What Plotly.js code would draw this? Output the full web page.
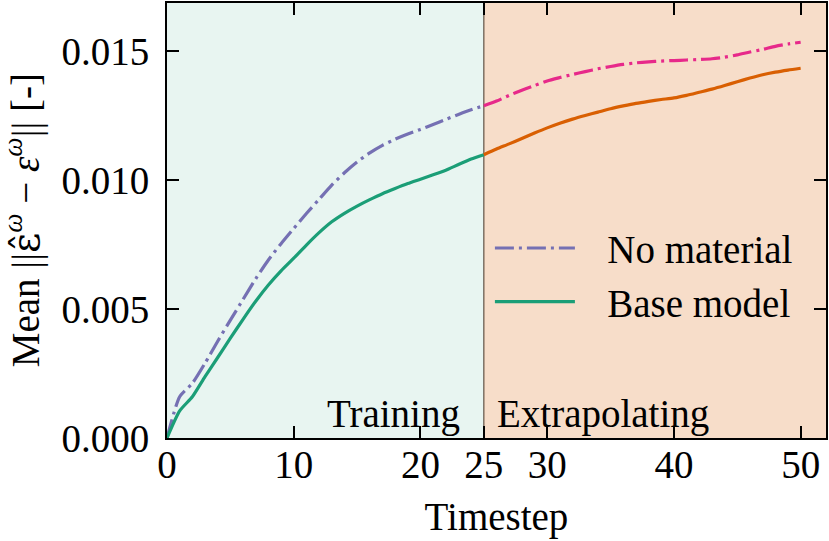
<!DOCTYPE html>
<html>
<head>
<meta charset="utf-8">
<script src="https://cdn.plot.ly/plotly-3.0.1.min.js"></script>
<style>
  html, body { margin: 0; padding: 0; background: white; }
  #chart { width: 829px; height: 541px; }
</style>
</head>
<body>
<div id="chart"></div>
<script>
// timesteps
const stepsTrain = [0,1,2,3,4,5,6,7,8,9,10,11,12,13,14,15,16,17,18,19,20,21,22,23,24,25];
const stepsExtra = [25,26,27,28,29,30,31,32,33,34,35,36,37,38,39,40,41,42,43,44,45,46,47,48,49,50];

// No material (dash-dot)
const noMatTrain = [0, 0.00160, 0.00212, 0.00290, 0.00375, 0.00457, 0.00537, 0.00617, 0.00690, 0.00753,
  0.00812, 0.00870, 0.00925, 0.00980, 0.01028, 0.01070, 0.01105, 0.01134, 0.01158, 0.01178,
  0.01196, 0.01215, 0.01235, 0.01254, 0.01272, 0.01288];
const noMatExtra = [0.01288, 0.01306, 0.01328, 0.01348, 0.01366, 0.01384, 0.01397, 0.01409, 0.01420, 0.01431,
  0.01440, 0.01448, 0.01454, 0.01458, 0.01461, 0.01463, 0.01465, 0.01467, 0.01470, 0.01476,
  0.01485, 0.01496, 0.01506, 0.01518, 0.01527, 0.01534];

// Base model (solid)
const baseTrain = [0, 0.00105, 0.00160, 0.00238, 0.00312, 0.00387, 0.00460, 0.00530, 0.00593, 0.00648,
  0.00697, 0.00748, 0.00796, 0.00838, 0.00871, 0.00899, 0.00924, 0.00947, 0.00967, 0.00986,
  0.01003, 0.01020, 0.01038, 0.01060, 0.01081, 0.01098];
const baseExtra = [0.01098, 0.01120, 0.01140, 0.01161, 0.01182, 0.01202, 0.01220, 0.01236, 0.01250, 0.01263,
  0.01276, 0.01287, 0.01297, 0.01305, 0.01312, 0.01318, 0.01328, 0.01340, 0.01352, 0.01366,
  0.01381, 0.01395, 0.01408, 0.01418, 0.01426, 0.01433];

const xTicks = [0, 10, 20, 25, 30, 40, 50];
const yTicks = [0, 0.005, 0.010, 0.015];
const yTickText = ['0.000', '0.005', '0.010', '0.015'];

const FONT = "'Liberation Serif', 'DejaVu Serif', serif";
const FS = 39;
const dashDot = '19px,5px,3px,5px';

const traces = [
  { x: stepsTrain, y: noMatTrain, mode: 'lines', name: '\u2002\u2009No material', legendgroup: 'a',
    line: { color: '#7570b3', width: 3.2, dash: dashDot, shape: 'spline', smoothing: 0.6 } },
  { x: stepsTrain, y: baseTrain, mode: 'lines', name: '\u2002\u2009Base model', legendgroup: 'b',
    line: { color: '#1b9e77', width: 3.2, shape: 'spline', smoothing: 0.6 } },
  { x: stepsExtra, y: noMatExtra, mode: 'lines', showlegend: false,
    line: { color: '#e7298a', width: 3.2, dash: dashDot, shape: 'spline', smoothing: 0.6 } },
  { x: stepsExtra, y: baseExtra, mode: 'lines', showlegend: false,
    line: { color: '#d95f02', width: 3.2, shape: 'spline', smoothing: 0.6 } }
];

const axisCommon = {
  showgrid: false, zeroline: false,
  showline: true, linecolor: 'black', linewidth: 2, mirror: 'ticks',
  ticks: 'inside', ticklen: 12, tickwidth: 2, tickcolor: 'black',
  tickfont: { family: FONT, size: FS, color: 'black' }
};

const layout = {
  width: 829, height: 541,
  margin: { l: 167, r: 3, t: 3, b: 103 },
  paper_bgcolor: 'white', plot_bgcolor: 'white',
  font: { family: FONT, size: FS, color: 'black' },
  xaxis: Object.assign({}, axisCommon, {
    range: [0, 52], tickvals: xTicks, ticklabelstandoff: -9,
    title: { text: 'Timestep', font: { family: FONT, size: FS }, standoff: 18 }
  }),
  yaxis: Object.assign({}, axisCommon, {
    range: [0, 0.01686], tickvals: yTicks, ticktext: yTickText, ticklabelstandoff: 8
  }),
  shapes: [
    { type: 'rect', xref: 'x', yref: 'paper', x0: 0, x1: 25, y0: 0, y1: 1,
      fillcolor: '#e8f5f1', line: { width: 0 }, layer: 'below' },
    { type: 'rect', xref: 'x', yref: 'paper', x0: 25, x1: 52, y0: 0, y1: 1,
      fillcolor: '#f7ddc9', line: { width: 0 }, layer: 'below' },
    { type: 'line', xref: 'x', yref: 'paper', x0: 25, x1: 25, y0: 0, y1: 1,
      line: { color: 'rgba(70,55,40,0.85)', width: 1.2 }, layer: 'below' }
  ],
  annotations: [
    { text: 'Mean ||<span style="font-family:DejaVu Serif">ε̂</span><sup><i>ω</i></sup> − <i>ε</i><sup><i>ω</i></sup>|| [-]',
      xref: 'paper', yref: 'paper', x: -0.219, y: 0.5, textangle: -90,
      xanchor: 'center', yanchor: 'middle', showarrow: false,
      font: { family: FONT, size: FS } },
    { text: 'Training', xref: 'x', yref: 'paper', x: 23.3, y: 0.055,
      xanchor: 'right', yanchor: 'middle', showarrow: false,
      font: { family: FONT, size: FS } },
    { text: 'Extrapolating', xref: 'x', yref: 'paper', x: 25.9, y: 0.055,
      xanchor: 'left', yanchor: 'middle', showarrow: false,
      font: { family: FONT, size: FS } }
  ],
  legend: {
    x: 0.49, y: 0.51, xanchor: 'left', yanchor: 'top',
    bgcolor: 'rgba(0,0,0,0)', borderwidth: 0,
    font: { family: FONT, size: FS },
    itemwidth: 80, traceorder: 'grouped', tracegroupgap: 0
  },
  showlegend: true
};

Plotly.newPlot('chart', traces, layout, { staticPlot: true });
</script>
</body>
</html>
